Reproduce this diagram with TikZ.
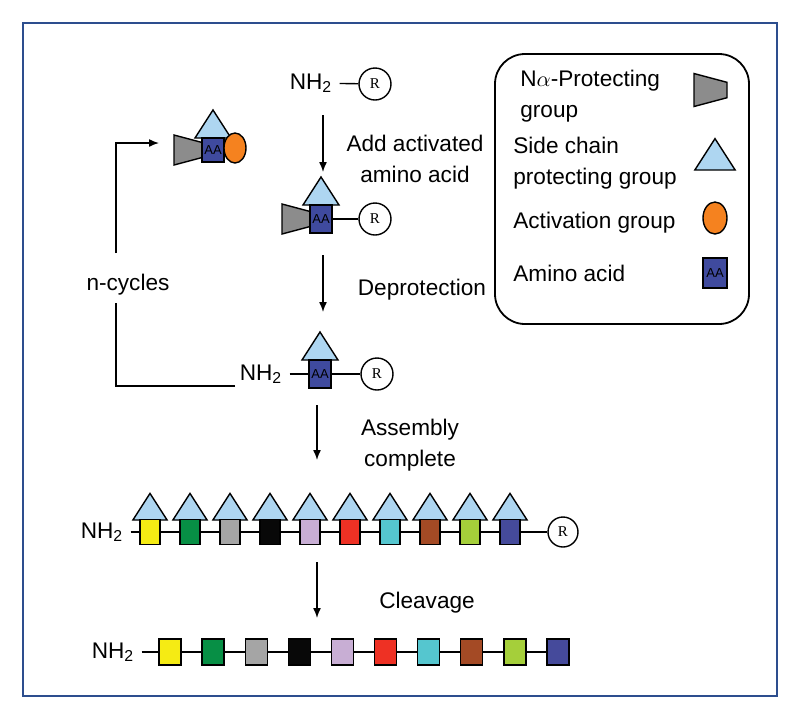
\documentclass[tikz,border=0pt]{standalone}
\usepackage{fontspec}
\setmainfont{Liberation Sans}
\newfontfamily\rfont{Liberation Serif}
\usetikzlibrary{arrows.meta,shapes.geometric}
\definecolor{frameblue}{HTML}{2D4E8E}
\definecolor{aablue}{HTML}{3F4A9E}
\definecolor{scblue}{HTML}{AED6F1}
\definecolor{npggray}{HTML}{8C8C8C}
\definecolor{actorange}{HTML}{F5821F}
\definecolor{cyellow}{HTML}{F5EB14}
\definecolor{cgreen}{HTML}{078F45}
\definecolor{cgray}{HTML}{A5A5A5}
\definecolor{cblack}{HTML}{080808}
\definecolor{clilac}{HTML}{C8AED4}
\definecolor{cred}{HTML}{EE3124}
\definecolor{ccyan}{HTML}{55C6CF}
\definecolor{cbrown}{HTML}{A44A25}
\definecolor{clime}{HTML}{A5CF3A}
\definecolor{cblue}{HTML}{454A9B}

\begin{document}
\begin{tikzpicture}[x=0.5pt,y=-0.5pt,line width=0.7pt,
  every node/.style={font=\fontsize{11.3}{15.5}\selectfont},
  lbl/.style={align=center},
  aa/.style={draw,fill=aablue,minimum width=11pt,minimum height=14pt,inner sep=0pt,font=\fontsize{6.5}{6.5}\selectfont},
  rgroup/.style={draw,circle,minimum size=16pt,inner sep=0pt,font=\rfont\fontsize{7.5}{7.5}\selectfont},
  act/.style={draw,ellipse,fill=actorange,minimum width=11pt,minimum height=15pt,inner sep=0pt},
  arr/.style={-{Latex[length=5pt,width=4pt]}},
  sidechain/.pic={\draw[fill=scblue] (-18,0) -- (0,-28) -- (18,0) -- cycle;},
  protect/.pic={\draw[fill=npggray] (0,-7) -- (-30,-15) -- (-30,15) -- (0,7) -- cycle;}]
\useasboundingbox (0,0) rectangle (800,720);
\draw[frameblue,line width=1.2pt] (23,23) rectangle (777,696);

% legend
\draw[rounded corners=15pt,line width=0.9pt] (495,54) rectangle (749,324);
\node[anchor=west,align=left] (lg1) at (513,96) {N$\alpha$-Protecting\\group};
\node[anchor=west,align=left] (lg2) at (506,163) {Side chain\\protecting group};
\node[anchor=west] (lg3) at (506,223) {Activation group};
\node[anchor=west] (lg4) at (506,273) {Amino acid};
\pic[scale=1.1] at (727,90) {protect};
\pic[scale=1.12] at (715,170) {sidechain};
\node[act,minimum width=12pt,minimum height=16pt] (lgact) at (715,218) {};
\node[aa,minimum width=12pt,minimum height=15pt] (lgaa) at (715,273) {AA};

% activated amino acid
\pic at (204,150) {protect};
\pic at (213,138) {sidechain};
\node[aa,minimum height=12pt] (aa0) at (213,150) {AA};
\node[act] (act0) at (235,148) {};

% resin
\node (nh1) at (311,83) {NH\textsubscript{2}};
\node[rgroup] (r0) at (375,84) {R};
\draw (nh1) -- (r0);

\pic at (312,219) {protect};
\pic at (321,205) {sidechain};
\node[aa] (aa1) at (321,219) {AA};
\node[rgroup] (r1) at (375,219) {R};
\draw (aa1) -- (r1);

\pic at (320,360) {sidechain};
\node[aa] (aa2) at (320,374) {AA};
\node[rgroup] (r2) at (377,374) {R};
\node (nh2) at (261,374) {NH\textsubscript{2}};
\draw (nh2) -- (aa2) -- (r2);

% n-cycles loop
\node (ncyc) at (128,285) {n-cycles};
\coordinate (lp) at (235,386);
\coordinate (lq) at (159,143);
\draw (lp) -| ([xshift=-6pt]ncyc.south);
\draw[arr] ([xshift=-6pt,yshift=7pt]ncyc.north) |- (lq);

% steps
\coordinate (s1) at (323,115); \coordinate (e1) at (323,172);
\coordinate (s2) at (323,255); \coordinate (e2) at (323,312);
\coordinate (s3) at (317,405); \coordinate (e3) at (317,460);
\coordinate (s4) at (317,562); \coordinate (e4) at (317,618);
\foreach \i in {1,...,4} \draw[arr] (s\i) -- (e\i);
\node[lbl] (t1) at (415,159) {Add activated\\amino acid};
\node (t2) at (422,290) {Deprotection};
\node[lbl] (t3) at (410,445) {Assembly\\complete};
\node (t4) at (427,603) {Cleavage};

% protected peptide
\node (nh3) at (102,532) {NH\textsubscript{2}};
\foreach \c [count=\i] in {cyellow,cgreen,cgray,cblack,clilac,cred,ccyan,cbrown,clime,cblue} {
  \pic[scale=0.95] at (110+40*\i,520) {sidechain};
  \node[aa,fill=\c,minimum width=10pt,minimum height=12.5pt] (p\i) at (110+40*\i,532) {};
}
\node[rgroup,minimum size=15pt] (r3) at (563,532) {R};
\draw (nh3) -- (p1);
\foreach \i [evaluate=\i as \j using int(\i+1)] in {1,...,9} \draw (p\i) -- (p\j);
\draw (p10) -- (r3);

% free peptide
\node (nh4) at (113,652) {NH\textsubscript{2}};
\foreach \c [count=\i] in {cyellow,cgreen,cgray,cblack,clilac,cred,ccyan,cbrown,clime,cblue}
  \node[aa,fill=\c,minimum height=13pt] (q\i) at (126.9+43.1*\i,652) {};
\draw (nh4) -- (q1);
\foreach \i [evaluate=\i as \j using int(\i+1)] in {1,...,9} \draw (q\i) -- (q\j);
\end{tikzpicture}
\end{document}
